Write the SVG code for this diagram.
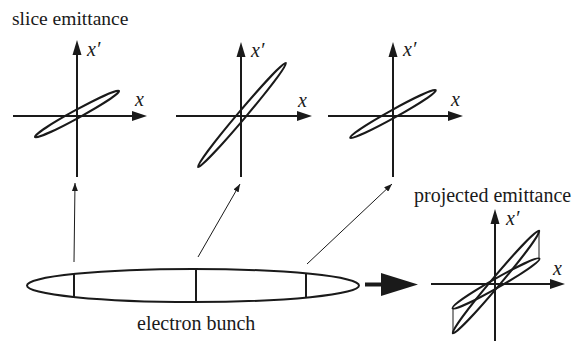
<svg xmlns="http://www.w3.org/2000/svg" width="583" height="341" viewBox="0 0 583 341">
<style>
.axis{stroke:#1a1a1a;stroke-width:2;fill:none}
.head{fill:#1a1a1a;stroke:none}
.ell{stroke:#1a1a1a;stroke-width:2;fill:none}
.thin{stroke:#1a1a1a;stroke-width:1;fill:none}
</style>
<defs>
<marker id="sa" viewBox="0 0 8 6" refX="8" refY="3" markerWidth="8" markerHeight="6" markerUnits="userSpaceOnUse" orient="auto"><path d="M0,0 L8,3 L0,6 z" fill="#1a1a1a"/></marker>
</defs>
<rect width="583" height="341" fill="#fff"/>

<g font-family="'Liberation Serif', serif" font-size="20" fill="#1a1a1a">
<text x="12" y="25" font-size="19.5">slice emittance</text>

<g id="slice1">
<path class="axis" d="M13,116 H132 M77,177 V55"/>
<polygon class="head" points="132,111 147,116 132,121"/>
<polygon class="head" points="72.5,55 77,40 81.5,55"/>
<ellipse class="ell" cx="77" cy="114" rx="48" ry="4" transform="rotate(-28.7 77 114)"/>
<text font-style="italic" x="87" y="56">x′</text>
<text font-style="italic" x="135" y="106">x</text>
</g>

<g id="slice2">
<path class="axis" d="M176,116 H297 M241,177 V57"/>
<polygon class="head" points="297,111 312,116 297,121"/>
<polygon class="head" points="236.5,57 241,42 245.5,57"/>
<ellipse class="ell" cx="242" cy="115" rx="68" ry="4" transform="rotate(-49.8 242 115)"/>
<text font-style="italic" x="251" y="57">x′</text>
<text font-style="italic" x="298" y="107">x</text>
</g>

<g id="slice3">
<path class="axis" d="M328,116 H448 M393,177 V57"/>
<polygon class="head" points="448,111 463,116 448,121"/>
<polygon class="head" points="388.5,57 393,42 397.5,57"/>
<ellipse class="ell" cx="393" cy="114" rx="49" ry="4" transform="rotate(-29 393 114)"/>
<text font-style="italic" x="403" y="56">x′</text>
<text font-style="italic" x="451" y="106">x</text>
</g>

<g id="bunch">
<ellipse class="ell" cx="193" cy="285.5" rx="166" ry="16.5"/>
<path class="ell" d="M74,274 V297 M196,269 V302 M306,273.5 V297.5"/>
<text x="137" y="330">electron bunch</text>
</g>

<g id="projected">
<text x="414" y="202">projected emittance</text>
<path class="axis" d="M431,284 H550 M495,341 V224"/>
<polygon class="head" points="550,279 565,284 550,289"/>
<polygon class="head" points="490.5,224 495,209 499.5,224"/>
<ellipse class="ell" cx="496" cy="282" rx="67" ry="4.5" transform="rotate(-49.9 496 282)"/>
<ellipse class="ell" cx="496" cy="283.5" rx="50" ry="4.5" transform="rotate(-29.7 496 283.5)"/>
<path class="thin" d="M453,308 V333 M539,231 V259"/>
<text font-style="italic" x="506" y="225">x′</text>
<text font-style="italic" x="553" y="275">x</text>
</g>
</g>

<g id="connectors">
<line class="thin" x1="74" y1="262" x2="75" y2="183" marker-end="url(#sa)"/>
<line class="thin" x1="198" y1="257" x2="240" y2="184" marker-end="url(#sa)"/>
<line class="thin" x1="307" y1="264" x2="392" y2="184" marker-end="url(#sa)"/>
<line x1="365" y1="284.5" x2="382" y2="284.5" stroke="#1a1a1a" stroke-width="4"/>
<polygon class="head" points="381,273 418,284.5 381,296"/>
</g>
</svg>
